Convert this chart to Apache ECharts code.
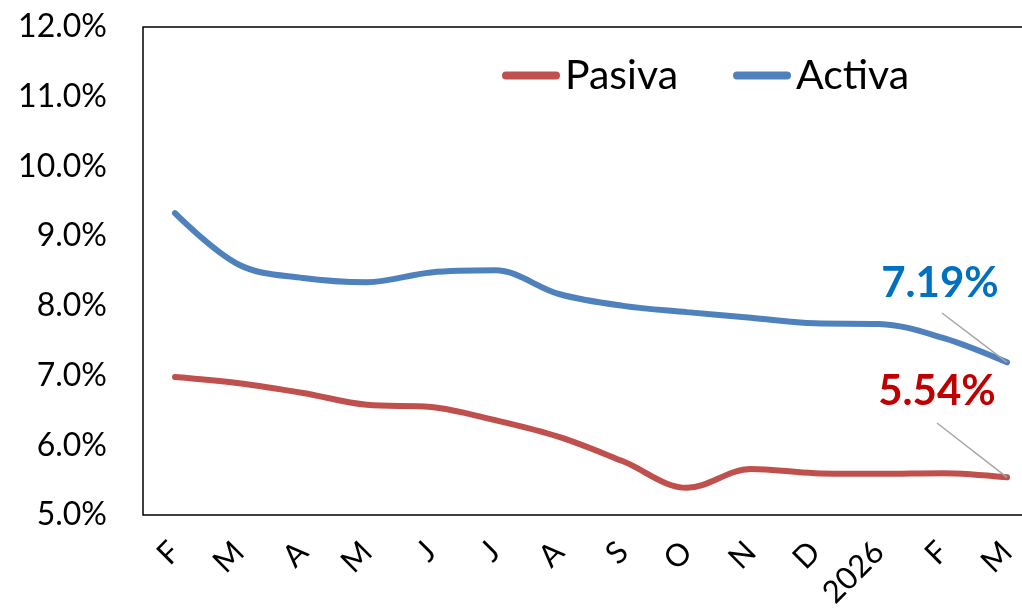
<!DOCTYPE html>
<html>
<head>
<meta charset="utf-8">
<script src="https://cdn.jsdelivr.net/npm/echarts@6/dist/echarts.min.js"></script>
<style>
  html, body { margin: 0; padding: 0; background: #fff; overflow: hidden; }
  /* wider than the window: the plot's right edge falls off-screen as in the source */
  #myChart { width: 1080px; height: 615px; }
</style>
</head>
<body>
<div id="myChart"></div>
<script>
// months, Feb 2025 .. Mar 2026
let categories = ["F", "M", "A", "M", "J", "J", "A", "S", "O", "N", "D", "2026", "F", "M"];
let pasiva = [6.98, 6.89, 6.75, 6.58, 6.55, 6.36, 6.12, 5.77, 5.39, 5.66, 5.60, 5.59, 5.60, 5.54];
let activa = [9.33, 8.59, 8.40, 8.34, 8.48, 8.51, 8.17, 8.00, 7.91, 7.83, 7.75, 7.74, 7.54, 7.19];
let yTicks = { min: 5, max: 12, interval: 1 };

let fontFamily = "Lato";

// where the end labels sit, and where their leader lines start (pixels)
let labelPos = {
  Pasiva: { text: [937, 391], lead: [937, 423] },
  Activa: { text: [940, 283], lead: [942, 313] }
};

// only the last point gets a label
function withLastLabel(values, color) {
  let last = values.length - 1;
  return values.map(function (v, i) {
    if (i !== last) return v;
    return {
      value: v,
      label: {
        show: true,
        formatter: function (p) {
          return p.value.toFixed(2) + "%";
        },
        color: color,
        fontFamily: fontFamily,
        fontWeight: "bold",
        fontSize: 42
      }
    };
  });
}

let myChart = echarts.init(document.getElementById("myChart"));

function lineSeries(name, values, labelColor) {
  let last = values.length - 1;
  let pos = labelPos[name];
  return {
    name: name,
    type: "line",
    smooth: 0.35,
    symbol: "circle",
    symbolSize: 1,
    showSymbol: true,
    lineStyle: { width: 6, cap: "round" },
    data: withLastLabel(values, labelColor),
    labelLayout: function () {
      return {
        x: pos.text[0],
        y: pos.text[1],
        align: "center",
        verticalAlign: "middle"
      };
    },
    markLine: {
      silent: true,
      animation: false,
      symbol: ["none", "none"],
      label: { show: false },
      lineStyle: { color: "#A6A6A6", width: 1.5, type: "solid" },
      data: [
        [
          { x: pos.lead[0], y: pos.lead[1] },
          { coord: [last, values[last]] }
        ]
      ]
    }
  };
}

const options = {
  animation: false,
  color: ["#C0504D", "#4F81BD"],
  legend: {
    left: 497,
    top: 50,
    itemWidth: 58,
    itemHeight: 8,
    itemGap: 55,
    icon: "path://M4,0 L54,0 A4,4 0 0 1 54,8 L4,8 A4,4 0 0 1 4,0 Z",
    textStyle: {
      fontFamily: fontFamily,
      fontSize: 41,
      color: "#000"
    },
    data: ["Pasiva", "Activa"]
  },
  grid: {
    left: 143,
    top: 27,
    width: 896,
    height: 488,
    show: true,
    borderColor: "#000",
    borderWidth: 1.5,
    containLabel: false
  },
  xAxis: {
    type: "category",
    data: categories,
    boundaryGap: true,
    axisLine: { show: false },
    axisTick: { show: false },
    axisLabel: {
      rotate: 45,
      margin: 32,
      interval: 0,
      fontFamily: fontFamily,
      fontSize: 31,
      color: "#000"
    },
    splitLine: { show: false }
  },
  yAxis: {
    type: "value",
    min: yTicks.min,
    max: yTicks.max,
    interval: yTicks.interval,
    axisLine: { show: false },
    axisTick: { show: false },
    splitLine: { show: false },
    axisLabel: {
      margin: 36,
      fontFamily: fontFamily,
      fontSize: 32,
      color: "#000",
      formatter: function (v) {
        return v.toFixed(1) + "%";
      }
    }
  },
  series: [
    lineSeries("Pasiva", pasiva, "#C00000"),
    lineSeries("Activa", activa, "#0070C0")
  ]
};

myChart.setOption(options);
</script>
</body>
</html>
